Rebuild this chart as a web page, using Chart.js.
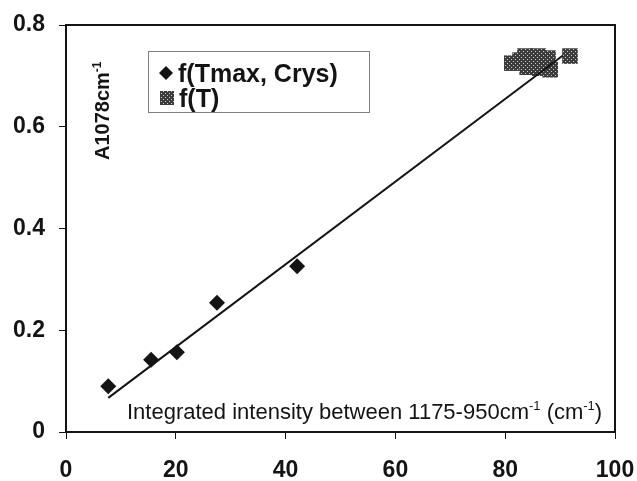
<!DOCTYPE html>
<html>
<head>
<meta charset="utf-8">
<script src="https://cdn.jsdelivr.net/npm/chart.js@4/dist/chart.umd.min.js"></script>
<style>
  body { margin: 0; background: #fff; }
  #wrap { width: 637px; height: 481px; }
</style>
</head>
<body>
<div id="wrap"><canvas id="chart" width="637" height="481"></canvas></div>
<script>
// values
const crysX = [7.7, 15.5, 20.2, 27.5, 42.1];
const crysY = [0.090, 0.142, 0.157, 0.254, 0.326];

const tX = [81.2, 82.7, 83.6, 84.0, 86.0, 86.3, 87.8, 88.2, 91.8];
const tY = [0.725, 0.731, 0.739, 0.717, 0.739, 0.715, 0.735, 0.712, 0.739];

const fitX = [7.7, 90.5];
const fitY = [0.067, 0.740];

const xTicks = [0, 20, 40, 60, 80, 100];
const yTicks = ['0', '0.2', '0.4', '0.6', '0.8'];

const ink = '#141414';
const fontFam = '"Liberation Sans", Arial, sans-serif';

// halftone fill for the f(T) squares
function makePattern() {
    const c = document.createElement('canvas');
    c.width = 4; c.height = 4;
    const g = c.getContext('2d');
    g.fillStyle = '#3c3c3c';
    g.fillRect(0, 0, 4, 4);
    g.fillStyle = '#c8c8c8';
    g.fillRect(1, 1, 1, 1);
    g.fillRect(3, 3, 1, 1);
    return g.createPattern(c, 'repeat');
}
const halftone = makePattern();

function pts(xs, ys) {
    return xs.map((x, i) => ({x: x, y: ys[i]}));
}

// text with superscript parts: [[text, isSup], ...]
function drawRich(ctx, parts, x, y, size, weight) {
    let cx = x;
    parts.forEach(p => {
        const s = p[1] ? Math.round(size * 0.6) : size;
        ctx.font = weight + ' ' + s + 'px ' + fontFam;
        ctx.fillText(p[0], cx, p[1] ? y - size * 0.42 : y);
        cx += ctx.measureText(p[0]).width;
    });
    return cx - x;
}

const decor = {
    id: 'decor',
    afterDraw(chart) {
        const ctx = chart.ctx;
        const a = chart.chartArea;
        ctx.save();

        // frame
        ctx.strokeStyle = ink;
        ctx.lineWidth = 2;
        ctx.strokeRect(a.left, a.top, a.right - a.left, a.bottom - a.top);

        ctx.fillStyle = ink;
        ctx.textBaseline = 'alphabetic';
        ctx.textAlign = 'left';

        // x title, inside the plot
        const xt = [['Integrated intensity between 1175-950cm', false], ['-1', true], [' (cm', false], ['-1', true], [')', false]];
        drawRich(ctx, xt, 127, 419, 22, 'normal');

        // y title, rotated, inside the plot
        ctx.save();
        ctx.translate(109, 160);
        ctx.rotate(-Math.PI / 2);
        drawRich(ctx, [['A1078cm', false], ['-1', true]], 0, 0, 20, 'bold');
        ctx.restore();

        // legend
        ctx.strokeStyle = '#808080';
        ctx.lineWidth = 1;
        ctx.strokeRect(148.5, 51.5, 221, 61);
        const ds = chart.data.datasets;
        ctx.fillStyle = ds[0].backgroundColor;
        ctx.beginPath();
        ctx.moveTo(166, 66); ctx.lineTo(173, 73); ctx.lineTo(166, 80); ctx.lineTo(159, 73);
        ctx.closePath(); ctx.fill();
        ctx.fillStyle = ds[1].backgroundColor;
        ctx.fillRect(160, 91, 14, 14);
        ctx.fillStyle = ink;
        ctx.font = 'bold 25px ' + fontFam;
        ctx.fillText(ds[0].label, 178, 82);
        ctx.fillText(ds[1].label, 179, 107);

        ctx.restore();
    }
};

new Chart(document.getElementById('chart'), {
    type: 'scatter',
    data: {
        datasets: [
            {
                label: 'f(Tmax, Crys)',
                data: pts(crysX, crysY),
                pointStyle: 'rectRot',
                pointRadius: 8,
                backgroundColor: ink,
                borderColor: ink,
                borderWidth: 0,
                order: 1
            },
            {
                label: 'f(T)',
                data: pts(tX, tY),
                pointStyle: 'rect',
                pointRadius: 11,
                backgroundColor: halftone,
                borderWidth: 0,
                order: 3
            },
            {
                label: 'fit',
                type: 'line',
                data: pts(fitX, fitY),
                borderColor: ink,
                borderWidth: 2,
                pointRadius: 0,
                fill: false,
                order: 2
            }
        ]
    },
    options: {
        responsive: false,
        animation: false,
        layout: {padding: {top: 25, right: 22, left: 0, bottom: 0}},
        plugins: {
            legend: {display: false},
            tooltip: {enabled: false}
        },
        scales: {
            x: {
                type: 'linear',
                min: 0,
                max: 100,
                afterFit(s) { s.height = 49; s.paddingLeft = 0; s.paddingRight = 0; },
                afterBuildTicks(s) { s.ticks = xTicks.map(v => ({value: v})); },
                border: {display: true, color: ink, width: 2},
                grid: {drawOnChartArea: false, drawTicks: true, tickLength: 7, color: ink, lineWidth: 1},
                ticks: {
                    color: ink,
                    padding: 18,
                    maxRotation: 0,
                    font: {family: fontFam, size: 23, weight: 'bold'}
                }
            },
            y: {
                min: 0,
                max: 0.8,
                afterFit(s) { s.width = 66; s.paddingTop = 0; s.paddingBottom = 0; },
                afterBuildTicks(s) { s.ticks = yTicks.map(t => ({value: parseFloat(t)})); },
                border: {display: true, color: ink, width: 2},
                grid: {drawOnChartArea: false, drawTicks: true, tickLength: 7, color: ink, lineWidth: 1},
                ticks: {
                    color: ink,
                    padding: 14,
                    font: {family: fontFam, size: 23, weight: 'bold'},
                    callback: (v, i) => yTicks[i]
                }
            }
        }
    },
    plugins: [decor]
});
</script>
</body>
</html>
